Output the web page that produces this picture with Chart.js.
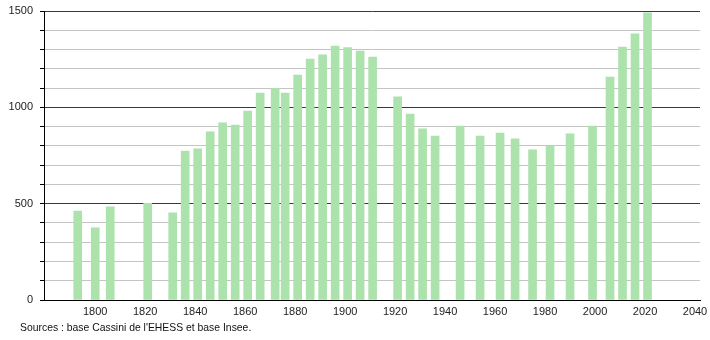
<!DOCTYPE html>
<html>
<head>
<meta charset="utf-8">
<script src="https://cdn.jsdelivr.net/npm/chart.js@4/dist/chart.umd.min.js"></script>
<style>
  html, body { margin: 0; padding: 0; background: #fff; }
  #wrap { position: relative; width: 710px; height: 340px; }
  #src { position: absolute; left: 20px; top: 322px; font: 10.4px "Liberation Sans", Arial, sans-serif; color: #111; white-space: nowrap; }
</style>
</head>
<body>
<div id="wrap">
  <canvas id="c" width="710" height="340"></canvas>
  <div id="src">Sources : base Cassini de l'EHESS et base Insee.</div>
</div>
<script>
const years = [1793, 1800, 1806, 1821, 1831, 1836, 1841, 1846, 1851, 1856, 1861, 1866, 1872, 1876, 1881, 1886, 1891, 1896, 1901, 1906, 1911, 1921, 1926, 1931, 1936, 1946, 1954, 1962, 1968, 1975, 1982, 1990, 1999, 2006, 2011, 2016, 2021];
const population = [462, 375, 483, 502, 453, 773, 784, 873, 919, 908, 981, 1074, 1099, 1074, 1168, 1251, 1272, 1318, 1310, 1292, 1261, 1054, 965, 888, 851, 903, 851, 867, 836, 779, 799, 862, 903, 1157, 1313, 1381, 1490];
const xTickLabels = [1800, 1820, 1840, 1860, 1880, 1900, 1920, 1940, 1960, 1980, 2000, 2020, 2040];
const yTickLabels = [0, 500, 1000, 1500];

const FONT = { family: '"Liberation Sans", Arial, sans-serif', size: 11 };

new Chart(document.getElementById('c'), {
  type: 'bar',
  data: {
    datasets: [{
      data: years.map((y, i) => ({ x: y, y: population[i] })),
      backgroundColor: 'rgb(172,226,172)',
      borderWidth: 0,
      barThickness: 8
    }]
  },
  options: {
    responsive: false,
    animation: false,
    layout: { padding: { left: 0, right: 10, top: 11, bottom: 0 } },
    plugins: { legend: { display: false }, tooltip: { enabled: false } },
    scales: {
      x: {
        type: 'linear',
        offset: false,
        min: 1779.5,
        max: 2042,
        afterBuildTicks: s => { s.ticks = xTickLabels.map(v => ({ value: v })); },
        afterFit: s => { s.height = 40; s.paddingLeft = 0; s.paddingRight = 0; },
        grid: { display: false, drawTicks: false, offset: false },
        border: { display: true, color: '#000', width: 1 },
        ticks: { font: FONT, color: '#222', padding: 5, maxRotation: 0, autoSkip: false, callback: v => String(v) }
      },
      y: {
        min: 0,
        max: 1500,
        afterBuildTicks: s => { const t = []; for (let v = 0; v <= 1500; v += 100) t.push({ value: v }); s.ticks = t; },
        afterFit: s => { s.width = 44; s.paddingTop = 0; s.paddingBottom = 0; },
        grid: {
          color: c => (c.tick && c.tick.value % 500 === 0) ? '#3a3a3a' : '#c4c4c4',
          tickColor: '#000',
          tickLength: 4,
          lineWidth: 1
        },
        border: { display: true, color: '#000', width: 1 },
        ticks: {
          font: FONT, color: '#222', padding: 7, autoSkip: false,
          callback: v => yTickLabels.includes(v) ? String(v) : ''
        }
      }
    }
  }
});
</script>
</body>
</html>
